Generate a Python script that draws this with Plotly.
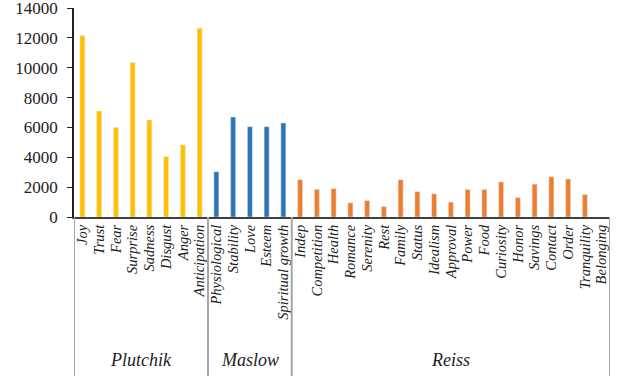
import plotly.graph_objects as go

# Motive categories grouped by theory
plutchik = ["Joy", "Trust", "Fear", "Surprise", "Sadness", "Disgust", "Anger", "Anticipation"]
maslow = ["Physiological", "Stability", "Love", "Esteem", "Spiritual growth"]
reiss = ["Indep", "Competition", "Health", "Romance", "Serenity", "Rest", "Family", "Status",
         "Idealism", "Approval", "Power", "Food", "Curiosity", "Honor", "Savings", "Contact",
         "Order", "Tranquility", "Belonging"]

plutchik_vals = [12150, 7100, 6000, 10350, 6500, 4050, 4830, 12650]
maslow_vals = [3030, 6700, 6050, 6050, 6300]
reiss_vals = [2500, 1850, 1900, 950, 1100, 700, 2500, 1700, 1550, 1000, 1850, 1850,
              2350, 1300, 2200, 2700, 2550, 1500, 0]

y_ticks = [0, 2000, 4000, 6000, 8000, 10000, 12000, 14000]

groups = [("Plutchik", plutchik, plutchik_vals, "#FFC000"),
          ("Maslow", maslow, maslow_vals, "#2E75B6"),
          ("Reiss", reiss, reiss_vals, "#ED7D31")]

categories = plutchik + maslow + reiss

fig = go.Figure()
for name, cats, vals, color in groups:
    fig.add_trace(go.Bar(x=cats, y=vals, name=name, marker_color=color,
                         width=0.3, showlegend=False))

# Group separators and group names below the category labels
shapes = []
annotations = []
start = 0
bottom = -1.0
for name, cats, vals, color in groups:
    end = start + len(cats)
    shapes.append(dict(type="line", xref="x", yref="paper",
                       x0=start - 0.5, x1=start - 0.5, y0=0, y1=bottom,
                       line=dict(color="#A6A6A6", width=2)))
    annotations.append(dict(xref="x", yref="paper", x=(start + end - 1) / 2, y=-0.686,
                            text=name, showarrow=False, yanchor="middle",
                            font=dict(family="Liberation Serif", size=18, color="#222",
                                      style="italic")))
    start = end
shapes.append(dict(type="line", xref="x", yref="paper",
                   x0=start - 0.5, x1=start - 0.5, y0=0, y1=bottom,
                   line=dict(color="#A6A6A6", width=2)))

fig.update_layout(
    width=626, height=376,
    margin=dict(l=74, r=16, t=8, b=159),
    plot_bgcolor="white", paper_bgcolor="white",
    bargap=0.7,
    shapes=shapes,
    annotations=annotations,
    xaxis=dict(
        type="category", categoryorder="array", categoryarray=categories,
        tickmode="array", tickvals=categories, ticktext=categories,
        range=[-0.5, len(categories) - 0.5], automargin=False,
        tickangle=-90, showgrid=False, ticks="",
        showline=True, linecolor="#404040", linewidth=2,
        tickfont=dict(family="Liberation Serif", size=14.5, color="#222", style="italic"),
    ),
    yaxis=dict(
        range=[0, 14000], tickmode="array", tickvals=y_ticks,
        ticktext=[str(v) for v in y_ticks], automargin=False,
        showgrid=False, zeroline=False, ticklabeloverflow="allow",
        showline=True, linecolor="#222", linewidth=1.5,
        ticks="outside", ticklen=5, tickcolor="#222", ticklabelstandoff=6,
        tickfont=dict(family="Liberation Serif", size=17, color="#222"),
    ),
)

fig.write_html("out.html")
